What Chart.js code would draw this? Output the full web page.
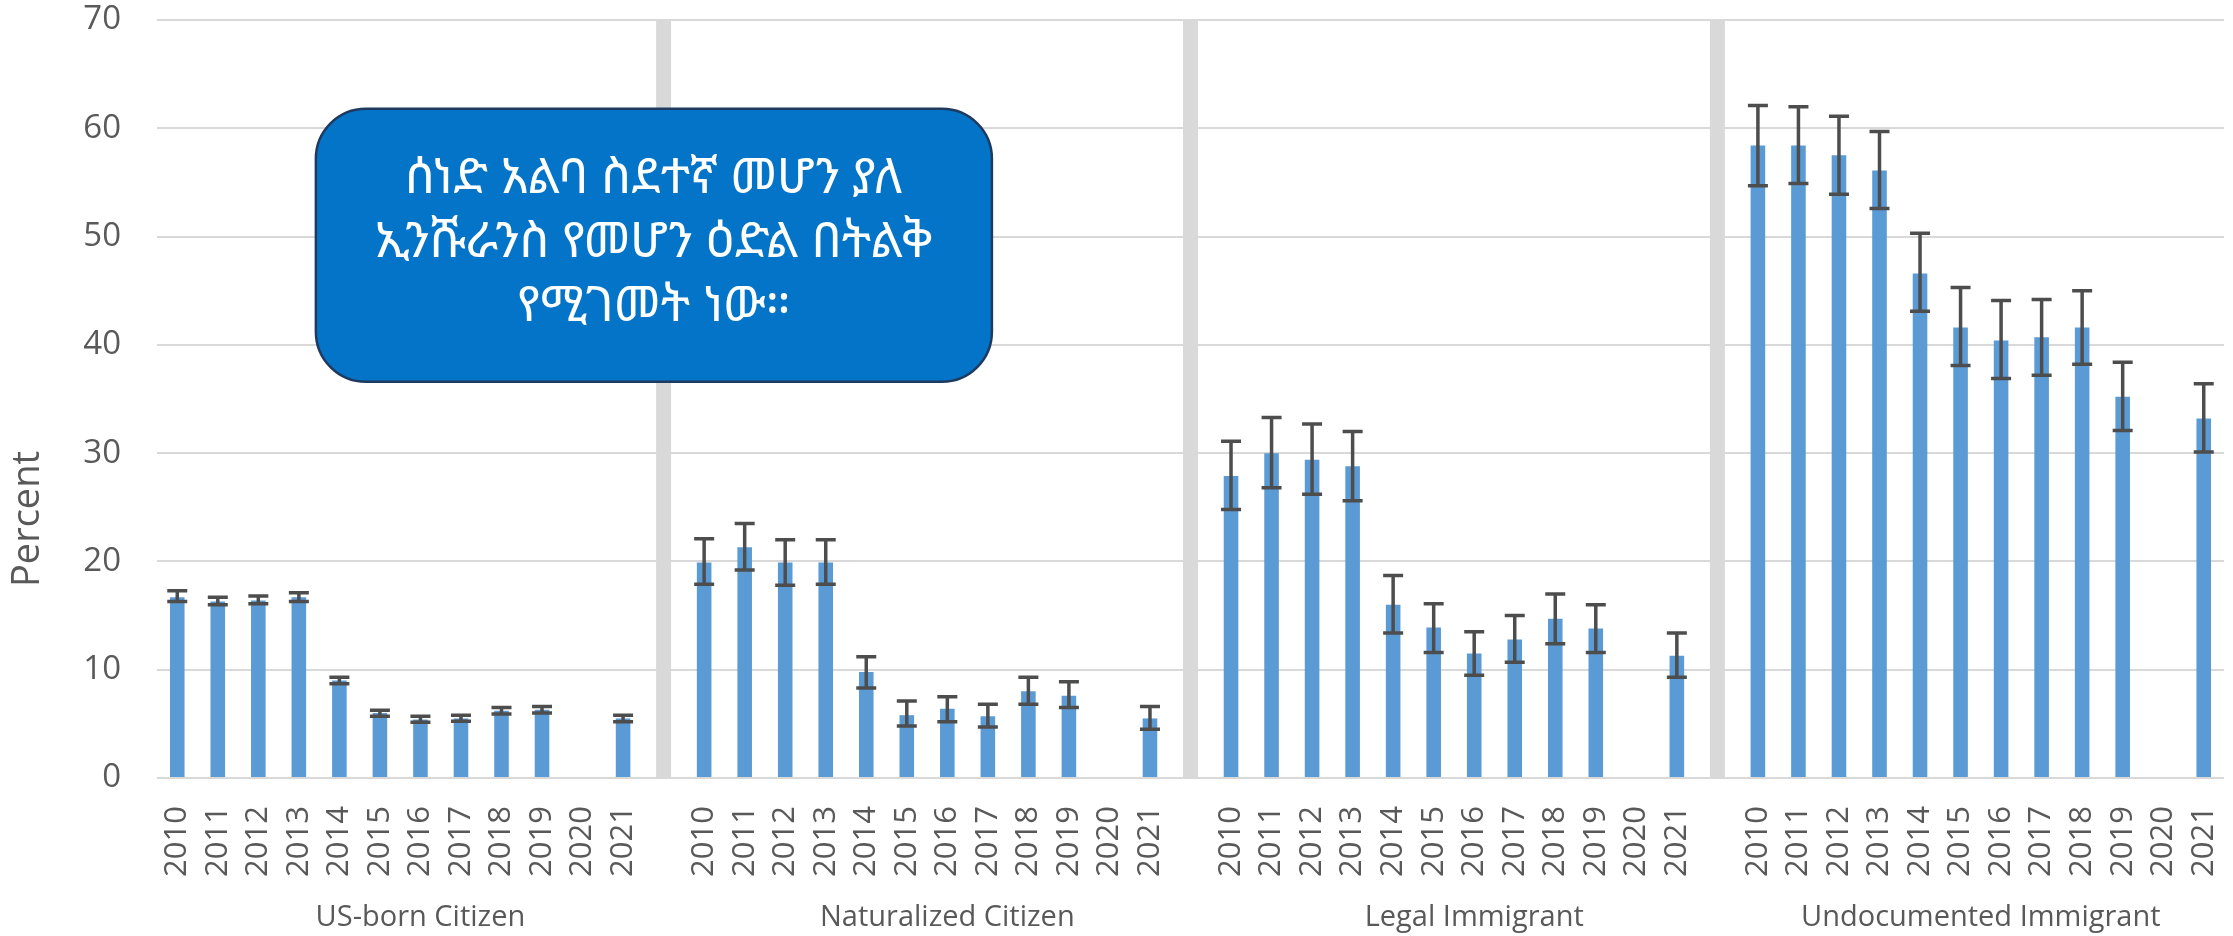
<!DOCTYPE html>
<html>
<head>
<meta charset="utf-8">
<script src="https://cdn.jsdelivr.net/npm/chart.js@4.4.1/dist/chart.umd.min.js"></script>
<style>
  html, body { margin: 0; padding: 0; background: #fff; }
</style>
</head>
<body>
<canvas id="chart" width="2233" height="936"></canvas>
<script>
const years = ['2010', '2011', '2012', '2013', '2014', '2015', '2016', '2017', '2018', '2019', '2020', '2021'];
const groups = ['US-born Citizen', 'Naturalized Citizen', 'Legal Immigrant', 'Undocumented Immigrant'];

// percent uninsured, with lower / upper error bar ends
const usBorn      = [16.7, 16.3, 16.4, 16.7, 9.0, 6.0, 5.4, 5.5, 6.2, 6.3, null, 5.5];
const usBornLow   = [16.3, 16.0, 16.1, 16.3, 8.7, 5.7, 5.15, 5.25, 5.9, 6.0, null, 5.2];
const usBornHigh  = [17.3, 16.7, 16.8, 17.1, 9.3, 6.25, 5.7, 5.8, 6.5, 6.6, null, 5.8];

const naturalized     = [19.9, 21.3, 19.9, 19.9, 9.8, 5.8, 6.4, 5.7, 8.0, 7.6, null, 5.5];
const naturalizedLow  = [17.9, 19.2, 17.8, 17.9, 8.3, 4.8, 5.2, 4.7, 6.8, 6.5, null, 4.5];
const naturalizedHigh = [22.1, 23.5, 22.0, 22.0, 11.2, 7.1, 7.5, 6.8, 9.3, 8.9, null, 6.6];

const legal     = [27.9, 30.0, 29.4, 28.8, 16.0, 13.9, 11.5, 12.8, 14.7, 13.8, null, 11.3];
const legalLow  = [24.8, 26.8, 26.2, 25.6, 13.4, 11.6, 9.5, 10.7, 12.4, 11.6, null, 9.3];
const legalHigh = [31.1, 33.3, 32.7, 32.0, 18.7, 16.1, 13.5, 15.0, 17.0, 16.0, null, 13.4];

const undocumented     = [58.4, 58.4, 57.5, 56.1, 46.6, 41.6, 40.4, 40.7, 41.6, 35.2, null, 33.2];
const undocumentedLow  = [54.7, 54.9, 53.9, 52.6, 43.1, 38.1, 36.9, 37.2, 38.2, 32.1, null, 30.1];
const undocumentedHigh = [62.1, 62.0, 61.1, 59.7, 50.3, 45.3, 44.1, 44.2, 45.0, 38.4, null, 36.4];

const yTicksMax = 70;
const yTitle = 'Percent';
const note = ['ሰነድ አልባ ስደተኛ መሆን ያለ', 'ኢንሹራንስ የመሆን ዕድል በትልቅ', 'የሚገመት ነው።'];

// flatten the four groups into one category axis, with an empty slot between groups
const all = [
  [usBorn, usBornLow, usBornHigh],
  [naturalized, naturalizedLow, naturalizedHigh],
  [legal, legalLow, legalHigh],
  [undocumented, undocumentedLow, undocumentedHigh]
];
let labels = [], values = [], lows = [], highs = [], dividers = [], groupSpans = [];
all.forEach((g, gi) => {
  let start = labels.length;
  years.forEach((y, i) => {
    labels.push(y);
    values.push(g[0][i]);
    lows.push(g[1][i]);
    highs.push(g[2][i]);
    dividers.push(null);
  });
  if (gi < all.length - 1) {
    labels.push('');
    values.push(null); lows.push(null); highs.push(null);
    dividers.push(yTicksMax);
  }
  groupSpans.push([start, labels.length - 1]);
});

const grey = '#595959';

const extras = {
  id: 'extras',
  afterDatasetsDraw(chart) {
    let ctx = chart.ctx, x = chart.scales.x, y = chart.scales.y;
    // error bars
    ctx.save();
    ctx.strokeStyle = '#4d4d4d';
    ctx.lineWidth = 3.5;
    for (let i = 0; i < values.length; i++) {
      if (values[i] == null) continue;
      let px = x.getPixelForValue(i);
      let y1 = y.getPixelForValue(lows[i]), y2 = y.getPixelForValue(highs[i]);
      ctx.beginPath();
      ctx.moveTo(px, y1); ctx.lineTo(px, y2);
      ctx.moveTo(px - 10, y1); ctx.lineTo(px + 10, y1);
      ctx.moveTo(px - 10, y2); ctx.lineTo(px + 10, y2);
      ctx.stroke();
    }
    ctx.restore();

    // callout box
    let l = x.getPixelForValue(3.42), r = x.getPixelForValue(20.1);
    let t = y.getPixelForValue(61.8), b = y.getPixelForValue(36.6);
    let rad = 50;
    ctx.save();
    ctx.beginPath();
    ctx.moveTo(l + rad, t);
    ctx.arcTo(r, t, r, b, rad);
    ctx.arcTo(r, b, l, b, rad);
    ctx.arcTo(l, b, l, t, rad);
    ctx.arcTo(l, t, r, t, rad);
    ctx.closePath();
    ctx.fillStyle = '#0474c8';
    ctx.fill();
    ctx.lineWidth = 2.5;
    ctx.strokeStyle = '#1f3a5f';
    ctx.stroke();
    ctx.fillStyle = '#ffffff';
    ctx.font = '49px "Noto Sans Ethiopic", "Abyssinica SIL", "DejaVu Sans", sans-serif';
    ctx.textAlign = 'center';
    ctx.textBaseline = 'middle';
    let cx = (l + r) / 2, cy = (t + b) / 2;
    note.forEach((line, i) => ctx.fillText(line, cx, cy - 2 + (i - 1) * 64));
    ctx.restore();
  },
  afterDraw(chart) {
    let ctx = chart.ctx, x = chart.scales.x;
    ctx.save();
    ctx.fillStyle = grey;
    ctx.font = '29px "Open Sans", sans-serif';
    ctx.textAlign = 'center';
    ctx.textBaseline = 'middle';
    groups.forEach((name, i) => {
      let s = groupSpans[i];
      let px = (x.getPixelForValue(s[0]) + x.getPixelForValue(s[1])) / 2;
      ctx.fillText(name, px, 918);
    });
    // axis title, sits below the middle of the axis in the original
    ctx.translate(28, 519);
    ctx.rotate(-Math.PI / 2);
    ctx.font = '38px "Open Sans", sans-serif';
    ctx.fillText(yTitle, 0, 0);
    ctx.restore();
  }
};

new Chart(document.getElementById('chart').getContext('2d'), {
  type: 'bar',
  data: {
    labels: labels,
    datasets: [
      {
        data: values,
        backgroundColor: '#5b9bd5',
        barPercentage: 0.36,
        categoryPercentage: 1,
        grouped: false
      },
      {
        data: dividers,
        backgroundColor: '#d9d9d9',
        barPercentage: 0.37,
        categoryPercentage: 1,
        grouped: false
      }
    ]
  },
  options: {
    responsive: false,
    animation: false,
    layout: { padding: { top: 1, right: 9, bottom: 0, left: 0 } },
    scales: {
      x: {
        grid: { display: false },
        border: { display: false },
        ticks: {
          color: grey,
          font: { family: 'Open Sans', size: 31 },
          minRotation: 90,
          maxRotation: 90,
          autoSkip: false,
          padding: 20
        },
        afterFit: (axis) => {
          axis.height = 158;
          axis.paddingLeft = 0;
          axis.paddingRight = 0;
        }
      },
      y: {
        min: 0,
        max: yTicksMax,
        grid: { color: '#d9d9d9', lineWidth: 2, drawTicks: false },
        border: { display: false },
        ticks: {
          stepSize: 10,
          color: grey,
          font: { family: 'Open Sans', size: 33 },
          padding: 36
        },
        afterFit: (axis) => {
          axis.width = 157;
          axis.paddingTop = 20;
          axis.paddingBottom = 20;
        }
      }
    },
    plugins: {
      legend: { display: false },
      tooltip: { enabled: false }
    }
  },
  plugins: [extras]
});
</script>
</body>
</html>
